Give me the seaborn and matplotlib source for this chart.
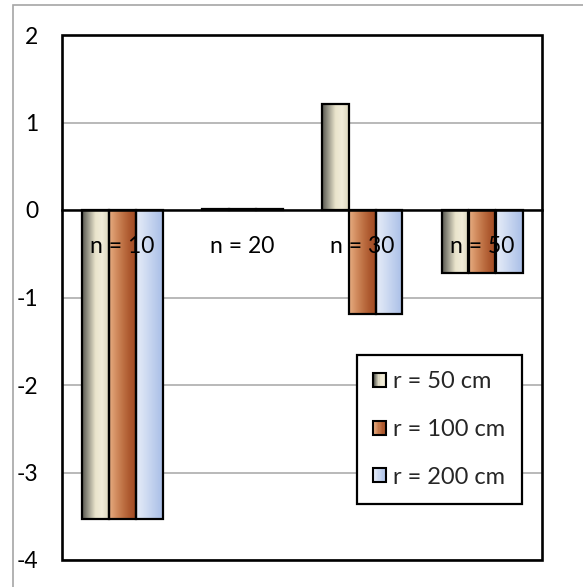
import numpy as np
import pandas as pd
import seaborn as sns
import matplotlib.pyplot as plt
from matplotlib.colors import LinearSegmentedColormap
from matplotlib.patches import Rectangle
from matplotlib.legend_handler import HandlerBase

categories = ["n = 10", "n = 20", "n = 30", "n = 50"]
series = ["r = 50 cm", "r = 100 cm", "r = 200 cm"]
r50 = [-3.53, 0.015, 1.21, -0.72]
r100 = [-3.53, 0.015, -1.19, -0.72]
r200 = [-3.53, 0.015, -1.19, -0.72]
y_ticks = [-4, -3, -2, -1, 0, 1, 2]

df = pd.DataFrame({
    "n": categories * len(series),
    "r": np.repeat(series, len(categories)),
    "value": r50 + r100 + r200,
})

# horizontal colour ramps giving each bar a cylinder-like shading
ramps = {
    series[0]: ["#55554e", "#a09e8f", "#e9e4cc", "#f1ecd8", "#dcd6bc"],
    series[1]: ["#e6ad82", "#d48f62", "#c07346", "#ae5a30", "#a04a22"],
    series[2]: ["#e6ecf8", "#d8e2f4", "#c8d6f0", "#b8caeb", "#a9bee7"],
}
cmaps = {k: LinearSegmentedColormap.from_list(k, v) for k, v in ramps.items()}

sns.set_theme(style="white")
plt.rcParams["font.family"] = ["Lato", "DejaVu Sans"]

W, H = 583, 587
fig = plt.figure(figsize=(W / 100, H / 100), dpi=100)
ax = fig.add_axes([62 / W, 1 - 560 / H, 480 / W, 525 / H])

sns.barplot(
    data=df, x="n", y="value", hue="r", order=categories, hue_order=series,
    palette=[cmaps[s](0.5) for s in series], width=0.675, gap=0,
    edgecolor="black", linewidth=1.6, saturation=1, errorbar=None,
    legend=False, ax=ax, zorder=3,
)

# replace flat fills with gradient images clipped to each bar
grad = np.linspace(0, 1, 256).reshape(1, -1)
for s, cont in zip(series, ax.containers):
    for patch in cont.patches:
        x0, y0 = patch.get_x(), patch.get_y()
        w, h = patch.get_width(), patch.get_height()
        if abs(h) > 1e-9:
            im = ax.imshow(grad, cmap=cmaps[s], aspect="auto",
                           extent=[x0, x0 + w, min(y0, y0 + h), max(y0, y0 + h)],
                           interpolation="bilinear", zorder=2.5)
            im.set_clip_path(patch)
        patch.set_facecolor("none")

ax.set_xlim(-0.5, len(categories) - 0.5)
ax.set_ylim(-4, 2)
ax.set_yticks(y_ticks)
ax.set_yticklabels([str(t) for t in y_ticks])
ax.yaxis.grid(True, color="#a6a6a6", linewidth=1.1)
ax.set_axisbelow(True)
ax.tick_params(axis="y", length=0, pad=17, labelsize=16.5, labelcolor="black")
ax.set_xlabel("")
ax.set_ylabel("")

# category axis sits on the zero line, its labels drawn over the bars
for side in ["left", "right", "top"]:
    ax.spines[side].set_visible(False)
ax.spines["bottom"].set_position(("data", 0))
ax.spines["bottom"].set_color("black")
ax.spines["bottom"].set_linewidth(1.8)
ax.spines["bottom"].set_zorder(4)
ax.xaxis.set_zorder(8)
ax.set_xticks([0.5, 1.5, 2.5])
ax.set_xticklabels([])
ax.set_xticks(range(len(categories)), minor=True)
ax.set_xticklabels(categories, minor=True)
ax.tick_params(axis="x", which="major", direction="in", length=5, width=1.5,
               color="black")
ax.tick_params(axis="x", which="minor", length=0, pad=19, labelsize=16.5,
               labelcolor="black")

# plot-area frame
ax.add_patch(Rectangle((0, 0), 1, 1, transform=ax.transAxes, fill=False,
                       edgecolor="black", linewidth=1.9, clip_on=False, zorder=5))

# chart-area border
fig.add_artist(Rectangle((13 / W, -0.1), 1.2, 1 - 5 / H + 0.1,
                         transform=fig.transFigure, fill=False,
                         edgecolor="#a6a6a6", linewidth=1.2))


class GradientHandler(HandlerBase):
    def __init__(self, cmap):
        super().__init__()
        self.cmap = cmap

    def create_artists(self, legend, orig_handle, xdescent, ydescent,
                       width, height, fontsize, trans):
        n = 10
        arts = []
        for k in range(n):
            arts.append(Rectangle((-xdescent + width * k / n, -ydescent),
                                  width / n, height, transform=trans,
                                  facecolor=self.cmap((k + 0.5) / n),
                                  edgecolor="none"))
        arts.append(Rectangle((-xdescent, -ydescent), width, height,
                              transform=trans, fill=False,
                              edgecolor="black", linewidth=1.5))
        return arts


handles = [Rectangle((0, 0), 1, 1) for _ in series]
leg = ax.legend(
    handles, series, loc="upper left", bbox_to_anchor=(0.615, 0.39),
    borderaxespad=0, fontsize=17, handlelength=0.55, handleheight=0.55,
    handletextpad=0.3, labelspacing=1.13, borderpad=0.68, fancybox=False,
    framealpha=1, edgecolor="black",
    handler_map={h: GradientHandler(cmaps[s]) for h, s in zip(handles, series)},
)
leg.get_frame().set_linewidth(1.6)
leg.set_zorder(9)

fig.savefig("out.png", dpi=100)
